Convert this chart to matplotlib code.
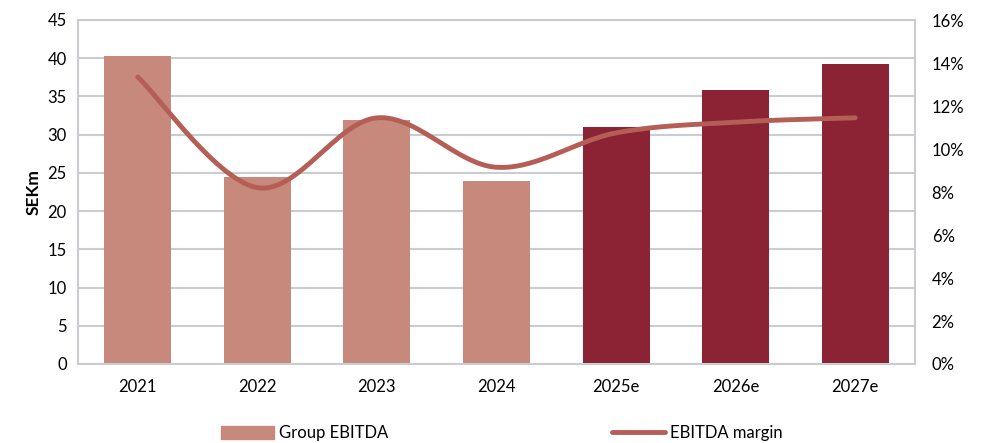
import numpy as np
import matplotlib
matplotlib.use("Agg")
import matplotlib.pyplot as plt
from matplotlib.patches import Patch
from matplotlib.lines import Line2D

plt.rcParams['font.family'] = ['Lato', 'DejaVu Sans']

categories = ["2021", "2022", "2023", "2024", "2025e", "2026e", "2027e"]
ebitda = [40.3, 24.4, 31.9, 23.9, 31.0, 35.8, 39.2]
margin = [13.35, 8.2, 11.45, 9.15, 10.75, 11.25, 11.45]
is_estimate = [False, False, False, False, True, True, True]

light = "#C8897D"
dark = "#8B2335"
line_col = "#B55E55"
grid_col = "#C9CCD1"

fig = plt.figure(figsize=(9.85, 4.43), dpi=100)
ax = fig.add_axes([78/985, 1-364/443, (915-78)/985, (364-20)/443])
x = np.arange(len(categories))
colors = [dark if e else light for e in is_estimate]
ax.bar(x, ebitda, width=0.56, color=colors, zorder=2)
ax.set_ylim(0, 45)
ax.set_yticks(np.arange(0, 46, 5))
ax.set_xlim(-0.5, len(categories) - 0.5)
ax.set_xticks(x)
ax.set_xticklabels(categories)
ax.yaxis.grid(True, color=grid_col, linewidth=1.5, zorder=0)
ax.set_axisbelow(True)
for s in ax.spines.values():
    s.set_color(grid_col)
    s.set_linewidth(1.5)
ax.tick_params(axis='both', length=0, labelsize=12, pad=8)
ax.tick_params(axis='x', pad=11)
ax.set_ylabel("SEKm", fontsize=12.5, fontweight='bold', labelpad=4)

ax2 = ax.twinx()
ax2.set_ylim(0, 16)
ax2.set_yticks(np.arange(0, 17, 2))
ax2.set_yticklabels([f"{v}%" for v in range(0, 17, 2)])
ax2.tick_params(axis='y', length=0, labelsize=12, pad=12)
for s in ax2.spines.values():
    s.set_visible(False)

# Excel-like smoothed line (Bezier through the data points)
def smooth(xs, ys, n=30, t=1/6):
    xs = np.asarray(xs, float); ys = np.asarray(ys, float)
    px, py = [], []
    for i in range(len(xs) - 1):
        x0, y0 = (xs[i-1], ys[i-1]) if i > 0 else (xs[i], ys[i])
        x1, y1 = xs[i], ys[i]
        x2, y2 = xs[i+1], ys[i+1]
        x3, y3 = (xs[i+2], ys[i+2]) if i + 2 < len(xs) else (xs[i+1], ys[i+1])
        c1x = x1 + (x2 - x0) * t; c1y = y1 + (y2 - y0) * t
        c2x = x2 - (x3 - x1) * t; c2y = y2 - (y3 - y1) * t
        s = np.linspace(0, 1, n)
        bx = (1-s)**3*x1 + 3*(1-s)**2*s*c1x + 3*(1-s)*s**2*c2x + s**3*x2
        by = (1-s)**3*y1 + 3*(1-s)**2*s*c1y + 3*(1-s)*s**2*c2y + s**3*y2
        px.extend(bx); py.extend(by)
    return np.array(px), np.array(py)

sx, sy = smooth(x, margin)
ax2.plot(sx, sy, color=line_col, linewidth=3.5, solid_capstyle='round', zorder=3)

handles = [Patch(color=light, label="Group EBITDA"),
           Line2D([0], [0], color=line_col, linewidth=3.5, solid_capstyle='round', label="EBITDA margin")]
fig.legend(handles=handles, loc='lower left', bbox_to_anchor=(206/985, -0.03), ncol=2,
           frameon=False, fontsize=12, columnspacing=13.4, handlelength=3.2, handletextpad=0.3,
           handleheight=0.9)

fig.savefig("out.png", dpi=100)
